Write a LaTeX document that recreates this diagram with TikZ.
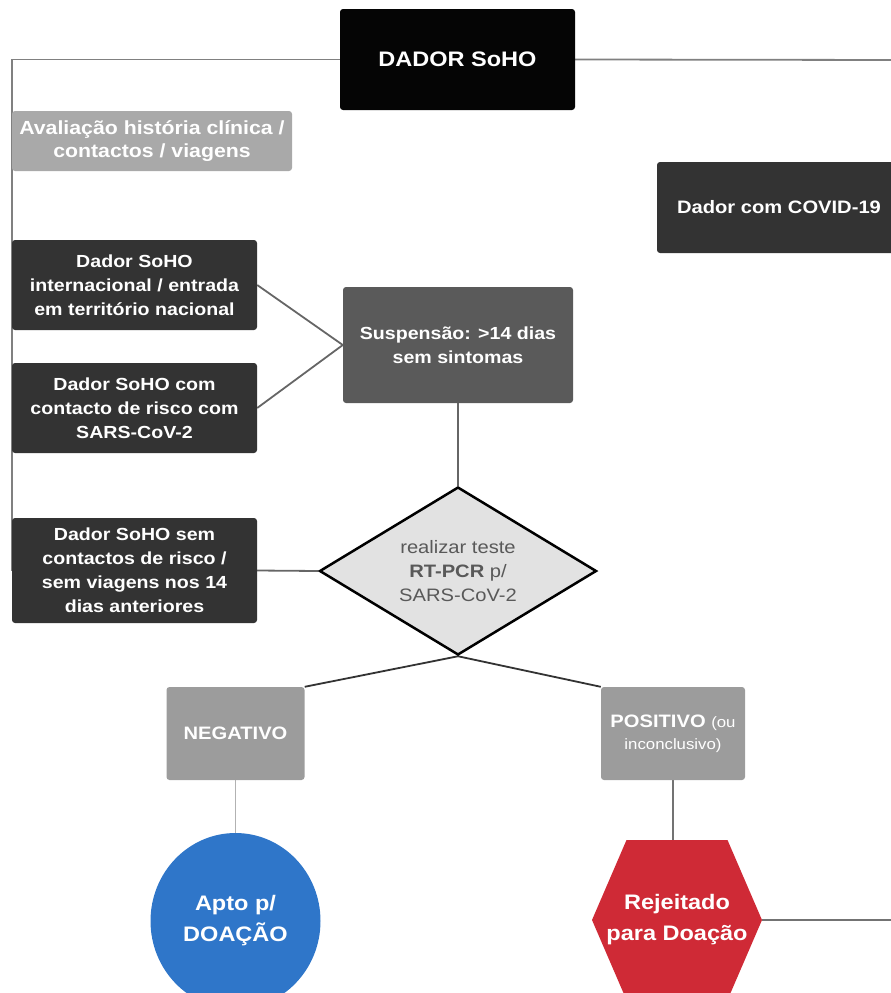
\documentclass[tikz,border=0pt]{standalone}
\usepackage{fontspec}
\setmainfont{Liberation Sans}[FakeStretch=1.12]
\usepackage{xcolor}
\usetikzlibrary{shapes.geometric,backgrounds}
\definecolor{sohoblack}{HTML}{050505}
\definecolor{sohodark}{HTML}{333333}
\definecolor{sohomid}{HTML}{5A5A5A}
\definecolor{sohogray}{HTML}{9C9C9C}
\definecolor{sohalight}{HTML}{A9A9A9}
\definecolor{testfill}{HTML}{E2E2E2}
\definecolor{aptoblue}{HTML}{2F76C9}
\definecolor{rejred}{HTML}{CF2A36}

\begin{document}
\begin{tikzpicture}[x=1pt,y=-1pt,
    box/.style={rectangle,rounded corners=3pt,text=white,inner sep=0pt,align=center,
      font=\bfseries\fontsize{17.5}{24}\selectfont},
    darkbox/.style={box,fill=sohodark,minimum width=245pt},
    resbox/.style={box,fill=sohogray,minimum width=#1,minimum height=93pt,font=\bfseries\fontsize{18}{22}\selectfont},
    hexa/.style={rectangle,inner sep=0pt,minimum width=170pt,minimum height=160pt,
      path picture={\fill[rejred] (path picture bounding box.west) -- ++(34.5,-80) -- ++(101,0)
        -- ++(34.5,80) -- ++(-34.5,80) -- ++(-101,0) -- cycle;}},
    wire/.style={draw=#1,line width=1.8pt},
    wire/.default=black!55]
  \clip (0,0) rectangle (891,993);

  \node[box,fill=sohoblack,minimum width=235pt,minimum height=101pt,font=\bfseries\fontsize{21}{24}\selectfont] (dador) at (457.5,59.5) {DADOR SoHO};
  \node[box,fill=sohalight,minimum width=280pt,minimum height=60pt,font=\bfseries\fontsize{19}{23}\selectfont] (aval) at (152,141) {Avaliação história clínica /\\contactos / viagens};
  \node[box,fill=sohodark,minimum width=244pt,minimum height=91pt,font=\bfseries\fontsize{18}{24}\selectfont] (covid) at (779,207.5) {Dador com COVID-19};

  \node[darkbox,minimum height=90pt] (intl) at (134.5,285) {Dador SoHO\\internacional / entrada\\em território nacional};
  \node[darkbox,minimum height=90pt] (risco) at (134.5,408) {Dador SoHO com\\contacto de risco com\\SARS-CoV-2};
  \node[darkbox,minimum height=105pt] (semrisco) at (134.5,570.5) {Dador SoHO sem\\contactos de risco /\\sem viagens nos 14\\dias anteriores};

  \node[box,fill=sohomid,minimum width=230pt,minimum height=116pt] (susp) at (458,345) {Suspensão: >14 dias\\sem sintomas};
  \node[diamond,aspect=1.65,draw=black,line width=2.5pt,fill=testfill,inner sep=0pt,
    minimum width=277pt,minimum height=168pt,align=center,text=black!65,
    font=\fontsize{18}{24}\selectfont] (teste) at (458,571) {realizar teste\\\textbf{RT-PCR} p/\\SARS-CoV-2};

  \node[resbox=138pt] (neg) at (235.5,733.5) {NEGATIVO};
  \node[resbox=144pt] (pos) at (673,733.5) {POSITIVO {\mdseries\fontsize{15}{20}\selectfont(ou}\\{\mdseries\fontsize{15}{20}\selectfont inconclusivo)}};

  \node[ellipse,fill=aptoblue,text=white,inner sep=0pt,minimum width=170pt,minimum height=176pt,align=center,
    font=\bfseries\fontsize{21}{31}\selectfont] (apto) at (235.5,921) {Apto p/\\DOAÇÃO};
  \node[hexa,text=white,align=center,font=\bfseries\fontsize{21}{31}\selectfont] (rej) at (677,920) {Rejeitado\\para Doação};

  \coordinate (topR) at (900,60);
  \coordinate (rejR) at (900,920);

  \begin{scope}[on background layer]
    \draw[wire=black!50] (dador.west) -| (semrisco.west);
    \draw[wire=black!50] (dador.east) -- (topR);
    \draw[wire=black!60] (intl.east) -- (susp.west);
    \draw[wire=black!60] (risco.east) -- (susp.west);
    \draw[wire=black!60] (susp.south) -- (teste.north);
    \draw[wire=black!60] (semrisco.east) -- (teste.west);
    \draw[wire=black!80] (teste.south) -- (neg.north east);
    \draw[wire=black!80] (teste.south) -- (pos.north west);
    \draw[wire=black!30] (neg.south) -- (apto.north);
    \draw[wire=black!55] (pos.south) -- (pos.south |- rej.north);
    \draw[wire=black!55] (rej.east) -- (rejR);
  \end{scope}
\end{tikzpicture}
\end{document}
